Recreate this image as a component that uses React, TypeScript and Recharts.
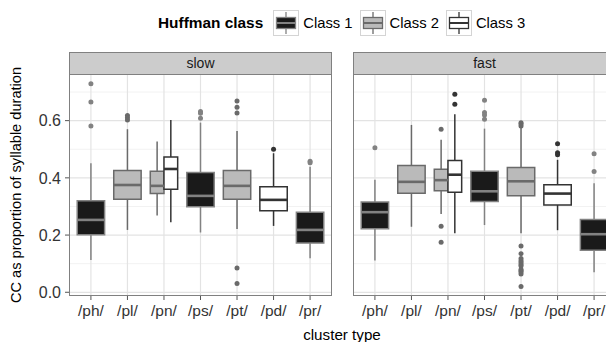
import React from "react";
import {
  ComposedChart,
  XAxis,
  YAxis,
  CartesianGrid,
  ReferenceArea,
  ReferenceLine,
  Scatter,
} from "recharts";

const clusters = ["/ph/", "/pl/", "/pn/", "/ps/", "/pt/", "/pd/", "/pr/"];
const classNames = ["Class 1", "Class 2", "Class 3"];
const facets = ["slow", "fast"];
const yTicks = [0, 0.2, 0.4, 0.6];
const yMinor = [0.1, 0.3, 0.5, 0.7];

// [cluster, class index, lower whisker, q1, median, q3, upper whisker]
const slowBoxes: [string, number, number, number, number, number, number][] = [
  ["/ph/", 0, 0.113, 0.201, 0.253, 0.32, 0.451],
  ["/pl/", 1, 0.218, 0.325, 0.375, 0.426, 0.57],
  ["/pn/", 1, 0.268, 0.345, 0.372, 0.423, 0.527],
  ["/pn/", 2, 0.245, 0.36, 0.431, 0.473, 0.602],
  ["/ps/", 0, 0.209, 0.299, 0.337, 0.419, 0.593],
  ["/pt/", 1, 0.221, 0.325, 0.372, 0.426, 0.564],
  ["/pd/", 2, 0.232, 0.285, 0.323, 0.369, 0.486],
  ["/pr/", 0, 0.119, 0.172, 0.218, 0.28, 0.439],
];

const fastBoxes: [string, number, number, number, number, number, number][] = [
  ["/ph/", 0, 0.111, 0.222, 0.28, 0.316, 0.393],
  ["/pl/", 1, 0.229, 0.346, 0.386, 0.443, 0.585],
  ["/pn/", 1, 0.274, 0.355, 0.392, 0.43, 0.533],
  ["/pn/", 2, 0.206, 0.35, 0.411, 0.461, 0.622],
  ["/ps/", 0, 0.235, 0.317, 0.353, 0.423, 0.572],
  ["/pt/", 1, 0.206, 0.337, 0.388, 0.436, 0.579],
  ["/pd/", 2, 0.217, 0.305, 0.345, 0.376, 0.463],
  ["/pr/", 0, 0.07, 0.147, 0.203, 0.254, 0.381],
];

// [cluster, class index, value]
const slowOutliers: [string, number, number][] = [
  ["/ph/", 0, 0.729], ["/ph/", 0, 0.665], ["/ph/", 0, 0.581],
  ["/pl/", 1, 0.618], ["/pl/", 1, 0.61], ["/pl/", 1, 0.602],
  ["/ps/", 0, 0.632], ["/ps/", 0, 0.626], ["/ps/", 0, 0.608],
  ["/pt/", 1, 0.669], ["/pt/", 1, 0.647], ["/pt/", 1, 0.627],
  ["/pt/", 1, 0.085], ["/pt/", 1, 0.031],
  ["/pd/", 2, 0.5],
  ["/pr/", 0, 0.458], ["/pr/", 0, 0.453],
];

const fastOutliers: [string, number, number][] = [
  ["/ph/", 0, 0.505],
  ["/pn/", 1, 0.57], ["/pn/", 1, 0.231], ["/pn/", 1, 0.175],
  ["/pn/", 2, 0.692], ["/pn/", 2, 0.657],
  ["/ps/", 0, 0.671], ["/ps/", 0, 0.628], ["/ps/", 0, 0.62], ["/ps/", 0, 0.605],
  ["/pt/", 1, 0.593], ["/pt/", 1, 0.588], ["/pt/", 1, 0.581],
  ["/pt/", 1, 0.162], ["/pt/", 1, 0.135], ["/pt/", 1, 0.118], ["/pt/", 1, 0.11],
  ["/pt/", 1, 0.104], ["/pt/", 1, 0.097], ["/pt/", 1, 0.092], ["/pt/", 1, 0.08],
  ["/pt/", 1, 0.075], ["/pt/", 1, 0.071], ["/pt/", 1, 0.064], ["/pt/", 1, 0.02],
  ["/pd/", 2, 0.519], ["/pd/", 2, 0.488], ["/pd/", 2, 0.481],
  ["/pr/", 0, 0.484], ["/pr/", 0, 0.422],
];

const fills = ["#1a1a1a", "#bababa", "#ffffff"];
const strokes = ["#828282", "#6a6a6a", "#333333"];
const FONT = '"Liberation Sans", Arial, Helvetica, sans-serif';

const BOX_W = 0.75;
const PLOT_W = 263;
const PLOT_H = 222;
const PLOT_TOP = 74;
const AXIS_H = 34;

// dodge position of a class within its cluster
function place(boxes: typeof slowBoxes) {
  return boxes.map(([c, k, lo, q1, med, q3, hi]) => {
    const group = boxes.filter((b) => b[0] === c).map((b) => b[1]);
    const n = group.length;
    const j = group.indexOf(k);
    const w = BOX_W / n;
    const x = clusters.indexOf(c) + 1 + (j - (n - 1) / 2) * w;
    return { c, k, x, w, lo, q1, med, q3, hi };
  });
}

function Panel({ boxes, outliers, showY }: { boxes: typeof slowBoxes; outliers: typeof slowOutliers; showY: boolean }) {
  const placed = place(boxes);
  const pts = outliers.map(([c, k, v]) => {
    const b = placed.find((p) => p.c === c && p.k === k)!;
    return { x: b.x, v, color: strokes[k] };
  });
  const yW = showY ? 69 : 0;
  return (
    <ComposedChart width={PLOT_W + yW} height={PLOT_H + AXIS_H} margin={{ top: 0, right: 0, bottom: 0, left: 0 }}>
      <CartesianGrid horizontalValues={yMinor} vertical={false} stroke="#f2f2f2" strokeWidth={1} />
      <CartesianGrid
        horizontalValues={yTicks}
        verticalValues={[1, 2, 3, 4, 5, 6, 7]}
        stroke="#e3e3e3"
        strokeWidth={1.2}
      />
      <XAxis
        type="number"
        dataKey="x"
        domain={[0.4, 7.6]}
        ticks={[1, 2, 3, 4, 5, 6, 7]}
        tickFormatter={(i: number) => clusters[i - 1]}
        allowDataOverflow
        axisLine={false}
        tickLine={{ stroke: "#555", strokeWidth: 1 }}
        tickSize={4}
        tickMargin={5}
        height={AXIS_H}
        tick={{ fill: "#333", fontSize: 15.5, fontFamily: FONT }}
        interval={0}
      />
      <YAxis
        type="number"
        dataKey="v"
        domain={[-0.013, 0.763]}
        ticks={yTicks}
        tickFormatter={(v: number) => v.toFixed(1)}
        allowDataOverflow
        hide={!showY}
        width={yW}
        axisLine={false}
        tickLine={{ stroke: "#555", strokeWidth: 1 }}
        tickSize={4}
        tickMargin={4}
        tick={{ fill: "#333", fontSize: 16, fontFamily: FONT }}
      />
      {placed.map((b, i) => (
        <ReferenceLine
          key={"wl" + i}
          segment={[{ x: b.x, y: b.lo }, { x: b.x, y: b.q1 }]}
          stroke={strokes[b.k]}
          strokeWidth={1.5}
        />
      ))}
      {placed.map((b, i) => (
        <ReferenceLine
          key={"wh" + i}
          segment={[{ x: b.x, y: b.q3 }, { x: b.x, y: b.hi }]}
          stroke={strokes[b.k]}
          strokeWidth={1.5}
        />
      ))}
      {placed.map((b, i) => (
        <ReferenceArea
          key={"box" + i}
          x1={b.x - b.w / 2}
          x2={b.x + b.w / 2}
          y1={b.q1}
          y2={b.q3}
          fill={fills[b.k]}
          fillOpacity={1}
          stroke={strokes[b.k]}
          strokeWidth={1.5}
        />
      ))}
      {placed.map((b, i) => (
        <ReferenceLine
          key={"med" + i}
          segment={[{ x: b.x - b.w / 2, y: b.med }, { x: b.x + b.w / 2, y: b.med }]}
          stroke={strokes[b.k]}
          strokeWidth={2.6}
        />
      ))}
      <Scatter
        data={pts}
        dataKey="v"
        isAnimationActive={false}
        shape={(p: any) => <circle cx={p.cx} cy={p.cy} r={2.5} fill={p.payload.color} />}
      />
    </ComposedChart>
  );
}

function KeyGlyph({ k }: { k: number }) {
  return (
    <svg width={26} height={26} style={{ display: "block" }}>
      <rect x={0.5} y={0.5} width={25} height={25} fill="#fff" stroke="#d4d4d4" />
      <line x1={13} y1={2} x2={13} y2={24} stroke={strokes[k]} strokeWidth={1.3} />
      <rect x={3.5} y={7.5} width={19} height={11} fill={fills[k]} stroke={strokes[k]} strokeWidth={1.3} />
      <line x1={3.5} y1={13} x2={22.5} y2={13} stroke={strokes[k]} strokeWidth={2} />
    </svg>
  );
}

export default function App() {
  const panels = [
    { left: 0, plotLeft: 69, boxes: slowBoxes, outliers: slowOutliers, showY: true },
    { left: 353, plotLeft: 353, boxes: fastBoxes, outliers: fastOutliers, showY: false },
  ];
  return (
    <div
      style={{
        position: "absolute",
        left: 0,
        top: 0,
        width: 606,
        height: 342,
        overflow: "hidden",
        background: "#fff",
        fontFamily: FONT,
      }}
    >
      {/* legend */}
      <div style={{ position: "absolute", left: 158, top: 10, height: 26, display: "flex", alignItems: "center" }}>
        <span style={{ fontWeight: "bold", fontSize: 15.4, marginRight: 10 }}>Huffman class</span>
        {classNames.map((name, k) => (
          <React.Fragment key={name}>
            <KeyGlyph k={k} />
            <span style={{ fontSize: 14.8, marginLeft: 4, marginRight: 7 }}>{name}</span>
          </React.Fragment>
        ))}
      </div>

      {panels.map((p, i) => (
        <React.Fragment key={facets[i]}>
          <div
            style={{
              position: "absolute",
              left: p.plotLeft,
              top: 52,
              width: PLOT_W,
              height: 23,
              boxSizing: "border-box",
              background: "#cccccc",
              border: "1px solid #808080",
              fontSize: 14,
              lineHeight: "21px",
              textAlign: "center",
              color: "#1a1a1a",
            }}
          >
            {facets[i]}
          </div>
          <div style={{ position: "absolute", left: p.left, top: PLOT_TOP }}>
            <Panel boxes={p.boxes} outliers={p.outliers} showY={p.showY} />
          </div>
          <div
            style={{
              position: "absolute",
              left: p.plotLeft,
              top: PLOT_TOP,
              width: PLOT_W,
              height: PLOT_H,
              boxSizing: "border-box",
              border: "1px solid #808080",
              pointerEvents: "none",
            }}
          />
        </React.Fragment>
      ))}

      {/* axis titles */}
      <div
        style={{
          position: "absolute",
          left: 16 - 150,
          top: PLOT_TOP + PLOT_H / 2 - 9,
          width: 300,
          height: 18,
          lineHeight: "18px",
          textAlign: "center",
          fontSize: 14.6,
          transform: "rotate(-90deg)",
          color: "#000",
        }}
      >
        CC as proportion of syllable duration
      </div>
      <div
        style={{
          position: "absolute",
          left: 342 - 100,
          top: 326,
          width: 200,
          lineHeight: "18px",
          textAlign: "center",
          fontSize: 15.2,
          color: "#000",
        }}
      >
        cluster type
      </div>
    </div>
  );
}
